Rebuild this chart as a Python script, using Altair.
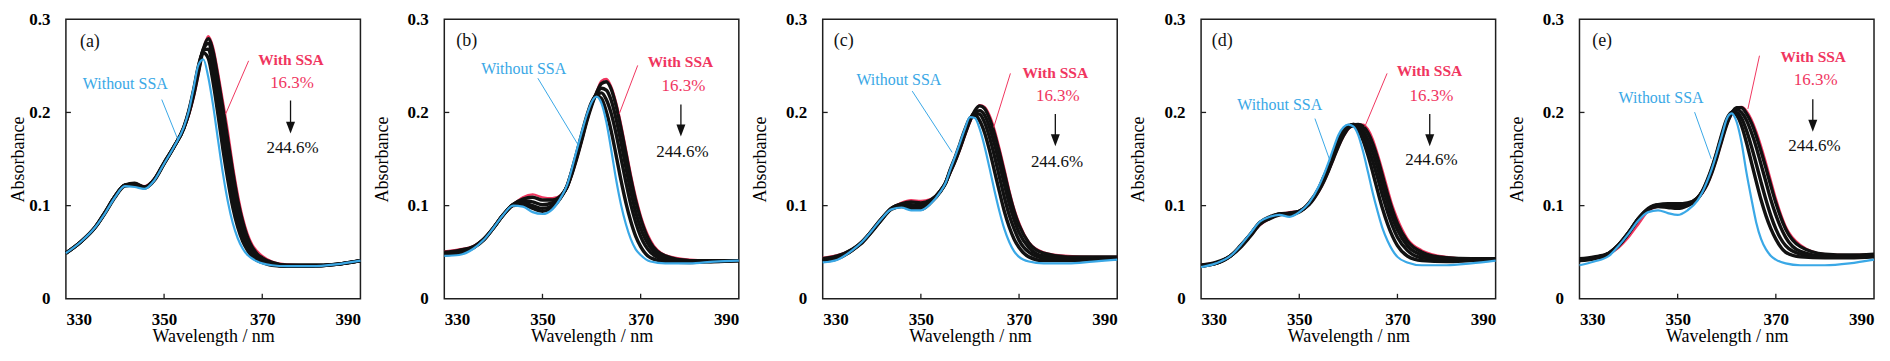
import altair as alt
import pandas as pd

# ---------------- data (absorbance in units of 0.001) ----------------
WL = [330, 333, 336, 338, 340, 342, 344, 346, 348, 350, 352, 354, 355, 356, 357,
      358, 359, 360, 361, 362, 363, 364, 365, 366, 367, 368, 369, 370, 372, 375,
      380, 385, 390]

A_RED = [49, 61, 77, 93, 110, 122, 124, 121, 129, 146, 163, 182, 196, 215, 240, 268, 282, 270, 243, 212, 180, 144, 113, 88, 70, 58, 51, 46, 40, 37, 36, 37, 41]
A_K1 = [49, 61, 77, 93, 110, 122, 124, 120, 128, 146, 163, 183, 198, 218, 243, 268, 279, 265, 236, 204, 170, 136, 106, 83, 66, 55, 48, 44, 39, 36, 36, 37, 41]
A_K2 = [49, 61, 77, 93, 110, 122, 123, 120, 128, 146, 163, 183, 199, 220, 246, 268, 274, 257, 226, 193, 158, 125, 97, 76, 61, 51, 45, 42, 38, 36, 36, 37, 41]
A_K3 = [49, 61, 77, 93, 110, 122, 123, 119, 128, 145, 163, 183, 200, 222, 248, 267, 268, 246, 213, 178, 144, 112, 87, 69, 56, 48, 43, 40, 37, 35, 35, 37, 41]
A_K4 = [49, 61, 77, 92, 109, 121, 122, 119, 127, 145, 163, 184, 201, 224, 250, 264, 258, 232, 197, 160, 127, 98, 77, 62, 52, 45, 41, 39, 36, 35, 35, 37, 41]
A_BLUE = [49, 61, 77, 92, 109, 121, 120, 118, 127, 145, 163, 184, 201, 226, 251, 257, 238, 207, 170, 134, 104, 81, 65, 54, 47, 43, 40, 38, 36, 35, 35, 37, 41]

B_RED = [51, 53, 57, 64, 76, 90, 101, 109, 112, 109, 108, 112, 119, 133, 150, 169, 189, 207, 222, 234, 236, 228, 211, 188, 161, 134, 110, 90, 63, 47, 42, 41, 41]
B_K1 = [50, 52, 56, 64, 76, 90, 101, 107, 109, 106, 106, 112, 120, 134, 151, 170, 190, 207, 221, 231, 233, 225, 207, 183, 156, 129, 105, 86, 60, 46, 41, 41, 41]
B_K2 = [49, 51, 56, 64, 76, 90, 101, 105, 104, 101, 103, 112, 120, 135, 153, 172, 192, 209, 220, 226, 224, 213, 193, 168, 141, 115, 93, 76, 55, 44, 41, 41, 41]
B_K3 = [48, 50, 55, 63, 76, 90, 101, 103, 100, 97, 100, 111, 121, 137, 155, 175, 194, 210, 219, 221, 214, 199, 177, 151, 125, 101, 82, 67, 50, 42, 40, 40, 41]
B_K4 = [47, 49, 55, 63, 76, 90, 100, 101, 97, 94, 98, 111, 121, 138, 157, 177, 196, 211, 218, 215, 201, 180, 154, 127, 103, 83, 67, 56, 44, 40, 39, 40, 41]
B_BLUE = [46, 47, 54, 63, 76, 90, 100, 99, 93, 91, 96, 111, 122, 140, 160, 179, 197, 211, 217, 210, 190, 160, 128, 101, 80, 64, 53, 47, 40, 38, 38, 40, 41]

C_RED = [44, 47, 53, 60, 72, 85, 97, 103, 106, 105, 107, 116, 124, 135, 147, 160, 175, 189, 201, 208, 206, 197, 182, 162, 140, 117, 97, 82, 61, 50, 46, 45, 45]
C_K1 = [43, 46, 53, 60, 72, 85, 97, 102, 104, 103, 106, 116, 124, 136, 148, 162, 177, 191, 202, 207, 204, 193, 177, 157, 135, 113, 94, 79, 60, 49, 45, 45, 45]
C_K2 = [42, 45, 53, 61, 72, 85, 97, 101, 101, 100, 105, 116, 124, 137, 149, 163, 178, 192, 200, 202, 197, 184, 166, 145, 123, 102, 85, 71, 55, 46, 44, 44, 44]
C_K3 = [41, 44, 52, 61, 73, 86, 97, 100, 99, 98, 104, 116, 124, 138, 151, 165, 180, 193, 199, 198, 189, 173, 153, 131, 109, 90, 75, 63, 50, 44, 43, 43, 44]
C_K4 = [40, 43, 52, 61, 73, 86, 96, 99, 97, 96, 103, 115, 124, 139, 152, 167, 182, 194, 197, 191, 178, 159, 137, 115, 94, 77, 64, 55, 45, 41, 41, 42, 43]
C_BLUE = [39, 42, 52, 61, 73, 86, 96, 98, 95, 95, 102, 115, 124, 139, 153, 168, 183, 195, 194, 182, 163, 140, 116, 94, 75, 61, 51, 45, 40, 38, 38, 40, 42]

D_RED = [37, 39, 46, 55, 67, 79, 86, 90, 93, 94, 101, 115, 125, 137, 150, 163, 174, 182, 186, 187, 187, 182, 171, 155, 137, 118, 100, 86, 65, 52, 45, 43, 43]
D_K1 = [36, 39, 46, 55, 67, 80, 86, 90, 92, 94, 101, 116, 126, 138, 151, 164, 175, 183, 186, 187, 185, 178, 166, 150, 131, 112, 95, 81, 62, 50, 44, 43, 43]
D_K2 = [36, 38, 46, 56, 68, 81, 87, 91, 92, 94, 102, 117, 128, 139, 153, 166, 177, 184, 187, 186, 181, 171, 157, 140, 121, 103, 87, 74, 57, 47, 43, 42, 43]
D_K3 = [35, 38, 46, 56, 69, 82, 87, 91, 91, 94, 102, 118, 130, 141, 155, 168, 179, 185, 187, 184, 176, 163, 147, 129, 110, 93, 78, 66, 52, 44, 42, 42, 43]
D_K4 = [35, 38, 46, 57, 69, 82, 88, 91, 90, 93, 103, 119, 131, 143, 157, 171, 181, 186, 186, 181, 170, 154, 135, 115, 96, 80, 67, 57, 46, 41, 40, 41, 42]
D_BLUE = [34, 38, 46, 57, 70, 83, 88, 90, 88, 93, 103, 121, 133, 147, 162, 176, 184, 187, 185, 176, 158, 136, 113, 93, 75, 62, 52, 45, 39, 36, 36, 38, 41]

E_RED = [42, 44, 48, 55, 66, 80, 94, 99, 101, 101, 102, 107, 113, 122, 135, 151, 169, 186, 198, 205, 206, 202, 193, 180, 164, 146, 127, 108, 78, 58, 48, 47, 48]
E_K1 = [43, 45, 49, 57, 70, 85, 96, 101, 102, 102, 103, 108, 114, 123, 136, 152, 170, 187, 199, 205, 205, 199, 189, 175, 158, 140, 121, 103, 75, 56, 48, 47, 48]
E_K2 = [42, 44, 49, 58, 71, 86, 97, 101, 101, 100, 102, 108, 115, 125, 138, 155, 173, 189, 200, 203, 200, 192, 179, 163, 144, 125, 106, 90, 66, 51, 46, 46, 47]
E_K3 = [41, 44, 49, 58, 71, 86, 96, 100, 99, 98, 101, 108, 115, 126, 140, 157, 175, 191, 200, 200, 194, 181, 164, 145, 125, 106, 89, 75, 57, 48, 45, 45, 46]
E_K4 = [41, 43, 48, 58, 71, 86, 96, 99, 98, 97, 100, 107, 115, 127, 141, 158, 177, 193, 200, 197, 186, 168, 147, 126, 106, 89, 75, 64, 50, 45, 44, 44, 45]
E_BLUE = [36, 40, 46, 57, 70, 84, 93, 95, 92, 90, 95, 105, 114, 126, 140, 157, 175, 193, 199, 190, 168, 136, 108, 82, 64, 53, 46, 42, 38, 36, 36, 38, 42]

PANELS = ["a", "b", "c", "d", "e"]
SERIES = {
    "a": [("red", A_RED), ("k1", A_K1), ("k2", A_K2), ("k3", A_K3), ("k4", A_K4), ("blue", A_BLUE)],
    "b": [("red", B_RED), ("k1", B_K1), ("k2", B_K2), ("k3", B_K3), ("k4", B_K4), ("blue", B_BLUE)],
    "c": [("red", C_RED), ("k1", C_K1), ("k2", C_K2), ("k3", C_K3), ("k4", C_K4), ("blue", C_BLUE)],
    "d": [("red", D_RED), ("k1", D_K1), ("k2", D_K2), ("k3", D_K3), ("k4", D_K4), ("blue", D_BLUE)],
    "e": [("red", E_RED), ("k1", E_K1), ("k2", E_K2), ("k3", E_K3), ("k4", E_K4), ("blue", E_BLUE)],
}

X_TICKS = [330, 350, 370, 390]
Y_TICKS = [0, 0.1, 0.2, 0.3]
X_INNER_TICKS = [350, 370]
Y_INNER_TICKS = [0.1, 0.2]

# annotations (data coordinates: wavelength, absorbance)
TAGS = ["(a)", "(b)", "(c)", "(d)", "(e)"]
TAG_X = [332.85, 332.44, 332.24, 332.18, 332.58]
TAG_Y = [0.270, 0.271, 0.271, 0.271, 0.271]
WITHOUT_X = [342.10, 346.17, 345.52, 346.01, 346.62]
WITHOUT_Y = [0.2253, 0.2408, 0.2294, 0.2024, 0.2097]
WITH_X = [375.86, 378.10, 377.39, 376.52, 377.63]
WITH_Y = [0.2512, 0.2491, 0.2367, 0.2388, 0.2543]
P163_X = [376.07, 378.71, 377.90, 376.92, 378.14]
P163_Y = [0.2263, 0.2232, 0.2128, 0.2128, 0.2294]
ARROW_X = [375.76, 378.20, 377.39, 376.58, 377.53]
ARROW_Y0 = [0.2128, 0.2086, 0.1983, 0.1983, 0.2141]
ARROW_HEAD_Y = [0.1837, 0.1806, 0.1702, 0.1702, 0.1858]
P2446_X = [376.17, 378.51, 377.74, 376.92, 377.86]
P2446_Y = [0.1567, 0.1526, 0.1412, 0.1432, 0.1588]
BLUE_PTR = [(349.53, 0.2138, 352.78, 0.1713), (349.06, 0.2367, 357.19, 0.1658),
            (348.24, 0.2229, 356.38, 0.1571), (353.19, 0.1934, 356.24, 0.1484),
            (353.45, 0.2003, 356.85, 0.1502)]
RED_PTR = [(367.22, 0.2554, 362.54, 0.1983), (369.40, 0.2505, 365.65, 0.1986),
           (368.24, 0.2419, 364.84, 0.1840), (367.89, 0.2419, 363.36, 0.1848),
           (366.67, 0.2609, 364.31, 0.2038)]

# ---------------- styling ----------------
FONT = "Liberation Serif"
RED = "#f0365f"
BLUE = "#3aa8e6"
BLACK = "#111111"
FRAME = "#1e1e1e"
W, H = 295, 280

rows = []
for p, curves in SERIES.items():
    for name, vals in curves:
        kind = name if name in ("red", "blue") else "black"
        for w, v in zip(WL, vals):
            rows.append({"panel": p, "curve": name, "kind": kind, "wl": w, "A": v / 1000.0})
df = pd.DataFrame(rows)

XS = alt.Scale(domain=[330, 390], nice=False, zero=False)
YS = alt.Scale(domain=[0, 0.3], nice=False, zero=False)


def panel(i, p):
    d = df[df.panel == p]
    xax = alt.Axis(values=X_TICKS, format="d", title="Wavelength / nm")
    yax = alt.Axis(values=Y_TICKS, title="Absorbance",
                   labelExpr="datum.value == 0 ? '0' : format(datum.value, '.1f')",
                   titlePadding=1 if i == 0 else 16)

    def xq(f):
        return alt.X(f, type="quantitative", scale=XS, axis=xax)

    def yq(f):
        return alt.Y(f, type="quantitative", scale=YS, axis=yax)

    def text_layer(x, y, txt, color, size, weight="normal", align="center"):
        dd = pd.DataFrame({"x": [x], "y": [y], "t": [txt]})
        return alt.Chart(dd).mark_text(font=FONT, fontSize=size, fontWeight=weight, color=color,
                                       align=align, baseline="alphabetic").encode(
            x=xq("x"), y=yq("y"), text="t:N")

    red = alt.Chart(d[d.kind == "red"]).mark_line(
        color=RED, strokeWidth=2.2, interpolate="monotone").encode(x=xq("wl"), y=yq("A"))
    blk = alt.Chart(d[d.kind == "black"]).mark_line(
        color=BLACK, strokeWidth=3.4, interpolate="monotone").encode(
        x=xq("wl"), y=yq("A"), detail="curve:N")
    blue = alt.Chart(d[d.kind == "blue"]).mark_line(
        color=BLUE, strokeWidth=2.2, interpolate="monotone").encode(x=xq("wl"), y=yq("A"))

    xt = alt.Chart(pd.DataFrame({"t": X_INNER_TICKS})).mark_rule(color=FRAME, strokeWidth=1.3).encode(
        x=xq("t"), y=alt.value(H), y2=alt.value(H - 5))
    yt = alt.Chart(pd.DataFrame({"t": Y_INNER_TICKS})).mark_rule(color=FRAME, strokeWidth=1.3).encode(
        y=yq("t"), x=alt.value(0), x2=alt.value(5))

    bp = BLUE_PTR[i]
    rp = RED_PTR[i]
    bptr = alt.Chart(pd.DataFrame({"x": [bp[0]], "y": [bp[1]], "x2": [bp[2]], "y2": [bp[3]]})).mark_rule(
        color=BLUE, strokeWidth=1).encode(x=xq("x"), y=yq("y"), x2="x2:Q", y2="y2:Q")
    rptr = alt.Chart(pd.DataFrame({"x": [rp[0]], "y": [rp[1]], "x2": [rp[2]], "y2": [rp[3]]})).mark_rule(
        color=RED, strokeWidth=1).encode(x=xq("x"), y=yq("y"), x2="x2:Q", y2="y2:Q")

    ad = pd.DataFrame({"x": [ARROW_X[i]], "y0": [ARROW_Y0[i]], "yh": [ARROW_HEAD_Y[i]]})
    shaft = alt.Chart(ad).mark_rule(color=BLACK, strokeWidth=1.3).encode(
        x=xq("x"), y=yq("y0"), y2="yh:Q")
    head = alt.Chart(ad).mark_point(shape="M-0.75,-1L0.75,-1L0,1Z", filled=True, size=144,
                                    color=BLACK, opacity=1).encode(x=xq("x"), y=yq("yh"))

    texts = [
        text_layer(TAG_X[i], TAG_Y[i], TAGS[i], BLACK, 18, "normal", "left"),
        text_layer(WITHOUT_X[i], WITHOUT_Y[i], "Without SSA", BLUE, 16),
        text_layer(WITH_X[i], WITH_Y[i], "With SSA", RED, 15.5, "bold"),
        text_layer(P163_X[i], P163_Y[i], "16.3%", RED, 17),
        text_layer(P2446_X[i], P2446_Y[i], "244.6%", BLACK, 17),
    ]
    return alt.layer(red, blk, blue, xt, yt, bptr, rptr, shaft, head, *texts).properties(
        width=W, height=H)


chart = alt.hconcat(*[panel(i, p) for i, p in enumerate(PANELS)], spacing=84, bounds="flush").properties(
    padding={"left": 1, "top": 1, "right": 0, "bottom": 0}
).configure_view(stroke=FRAME, strokeWidth=1.5).configure_axis(
    labelFont=FONT, labelFontSize=17, labelFontWeight="bold", labelColor="black",
    titleFont=FONT, titleFontSize=18, titleFontWeight="normal", titleColor="black",
    domain=False, ticks=False, tickSize=0, grid=False, labelPadding=15
).configure_axisX(labelPadding=13, titlePadding=0).configure_axisY(labelPadding=16)

chart.save("out.html", embed_options={"renderer": "svg", "actions": False})
